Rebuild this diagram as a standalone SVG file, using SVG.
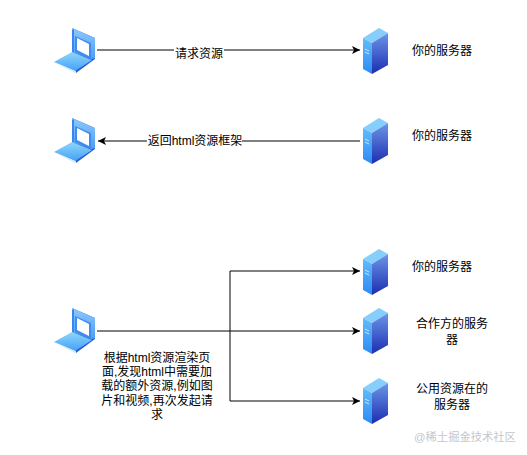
<svg xmlns="http://www.w3.org/2000/svg" width="527" height="455" viewBox="0 0 527 455">
<style>
text{font-family:"Liberation Sans","Noto Sans CJK SC",sans-serif;font-size:12px;fill:#000;text-anchor:middle}
.c{fill:none;stroke:#000;stroke-width:1}
</style>
<defs>
<marker id="a" markerUnits="userSpaceOnUse" markerWidth="9" markerHeight="9" refX="8" refY="4.5" orient="auto"><path d="M0 0.5L8 4.5L0 8.5L2 4.5Z" fill="#000"/></marker>
<linearGradient id="gL" x1="0" y1="0" x2="0" y2="1"><stop offset="0" stop-color="#8fd6fc"/><stop offset="1" stop-color="#45a2f6"/></linearGradient>
<linearGradient id="gF" x1="0" y1="0" x2="0" y2="1"><stop offset="0" stop-color="#8cc8fa"/><stop offset="1" stop-color="#4f9cf4"/></linearGradient>
<linearGradient id="gS" x1="0" y1="0" x2="0" y2="1"><stop offset="0" stop-color="#62bcfa"/><stop offset="1" stop-color="#2b8af4"/></linearGradient>
<linearGradient id="gD" x1="0" y1="0" x2="0" y2="1"><stop offset="0" stop-color="#6c96e8"/><stop offset="1" stop-color="#1c2db0"/></linearGradient>
<symbol id="laptop" width="42" height="46" viewBox="0 0 42 46" overflow="visible">
<path d="M18 0L41 10V31L22 45L18 24Z" fill="#2d5fd2"/>
<path d="M18 0L41 10V30L38 31L18 24Z" fill="url(#gF)"/>
<path d="M18 2L20 1V25L18 24Z" fill="#3a86ee"/>
<path d="M21 8L37 15V31L21 24Z" fill="#3f8cf0"/>
<path d="M23 10L35 16V28L23 22Z" fill="#fff"/>
<path d="M18 24L38 32L21 43L0 34Z" fill="url(#gL)"/>
<path d="M0 34L21 45V43Z" fill="#d5ecfd"/>
</symbol>
<symbol id="server" width="26" height="46" viewBox="0 0 26 46" overflow="visible">
<path d="M0 10L16 0L25 5L9 15Z" fill="#86cefc"/>
<path d="M0 10L9 15V46L0 41Z" fill="url(#gS)"/>
<path d="M9 15L25 5V37L9 46Z" fill="url(#gD)"/>
<path d="M2 21L6 23M2 24L6 26" stroke="#cfe6fb" stroke-width="1" fill="none"/>
</symbol>
</defs>
<g id="connectors">
<path class="c" marker-end="url(#a)" d="M97 50H360"/>
<path class="c" marker-end="url(#a)" d="M360 141H98"/>
<path class="c" d="M97 331H230"/>
<path class="c" marker-end="url(#a)" d="M230 331V271H360"/>
<path class="c" marker-end="url(#a)" d="M230 331H360"/>
<path class="c" marker-end="url(#a)" d="M230 331V401H360"/>
</g>
<g id="edge-label-1"><rect x="174" y="44" width="50" height="14" fill="#fff"/><text x="199" y="58">请求资源</text></g>
<g id="edge-label-2"><rect x="147" y="134" width="95" height="14" fill="#fff"/><text x="195" y="145">返回html资源框架</text></g>
<g id="laptop-1"><use href="#laptop" x="54" y="28"/></g>
<g id="laptop-2"><use href="#laptop" x="54" y="118"/></g>
<g id="laptop-3"><use href="#laptop" x="54" y="308"/></g>
<g id="server-1"><use href="#server" x="363" y="28"/><text x="442" y="55">你的服务器</text></g>
<g id="server-2"><use href="#server" x="363" y="118"/><text x="442" y="140">你的服务器</text></g>
<g id="server-3"><use href="#server" x="363" y="249"/><text x="442" y="271">你的服务器</text></g>
<g id="server-4"><use href="#server" x="363" y="308"/><text x="452" y="328">合作方的服务</text><text x="452" y="344">器</text></g>
<g id="server-5"><use href="#server" x="363" y="378"/><text x="452" y="393">公用资源在的</text><text x="452" y="409">服务器</text></g>
<g id="note">
<text x="157" y="362">根据html资源渲染页</text>
<text x="157" y="376">面,发现html中需要加</text>
<text x="157" y="390">载的额外资源,例如图</text>
<text x="157" y="405">片和视频,再次发起请</text>
<text x="157" y="419">求</text>
</g>
<text id="watermark" x="465" y="441" style="font-size:11.3px;fill:#c4c7cc">@稀土掘金技术社区</text>
</svg>
